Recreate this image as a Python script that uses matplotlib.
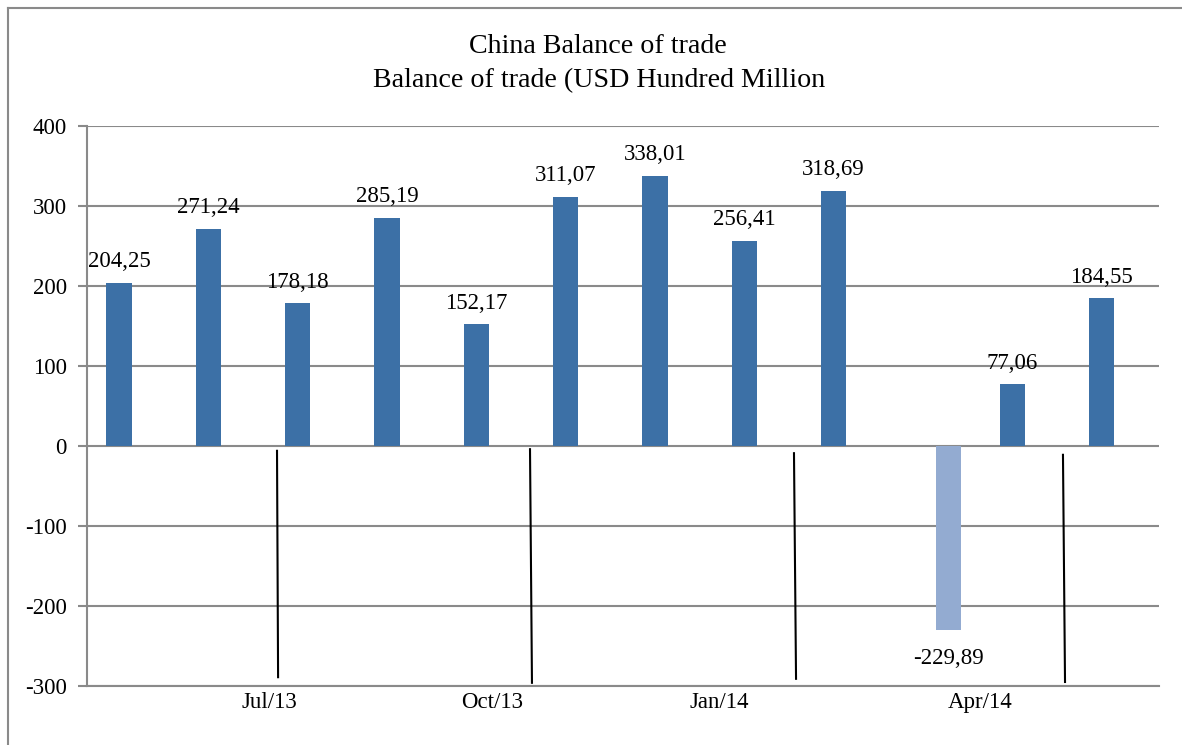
import matplotlib
matplotlib.use("Agg")
import matplotlib.pyplot as plt
import numpy as np

plt.rcParams['font.family'] = ['Liberation Serif', 'DejaVu Serif']

# ---- data ----
months = ["May/13", "Jun/13", "Jul/13", "Aug/13", "Sep/13", "Oct/13",
          "Nov/13", "Dec/13", "Jan/14", "Feb/14", "Mar/14", "Apr/14"]
surplus = [204.25, 271.24, 178.18, 285.19, 152.17, 311.07,
           338.01, 256.41, 318.69, np.nan, 77.06, 184.55]
deficit = [np.nan, np.nan, np.nan, np.nan, np.nan, np.nan,
           np.nan, np.nan, np.nan, -229.89, np.nan, np.nan]
date_labels = ["Jul/13", "Oct/13", "Jan/14", "Apr/14"]
yticks = [-300, -200, -100, 0, 100, 200, 300, 400]

def fmt(v):
    return f"{v:.2f}".replace(".", ",")

# ---- layout ----
W, H = 1182, 745
fig = plt.figure(figsize=(W / 100, H / 100), dpi=100)
ax = fig.add_axes([87 / W, 1 - 686 / H, (1159 - 87) / W, (686 - 126) / H])

x = np.arange(len(months))
bw = 0.285
dark = "#3C70A6"
light = "#93ABD1"
grid_c = "#8A8A8A"
FS = 16.5

b1 = ax.bar(x - bw / 2, surplus, width=bw, color=dark, zorder=3)
b2 = ax.bar(x + bw / 2, deficit, width=bw, color=light, zorder=3)

for rect, v in zip(b1, surplus):
    if not np.isnan(v):
        ax.annotate(fmt(v), (rect.get_x() + rect.get_width() / 2, v),
                    xytext=(0, 11.3), textcoords="offset points",
                    ha="center", va="baseline", fontsize=FS)
for rect, v in zip(b2, deficit):
    if not np.isnan(v):
        ax.annotate(fmt(v), (rect.get_x() + rect.get_width() / 2, v),
                    xytext=(0, -24.5), textcoords="offset points",
                    ha="center", va="baseline", fontsize=FS)

ax.set_xlim(-0.5, len(months) - 0.5)
ax.set_ylim(-300, 400)
ax.set_yticks(yticks)
ax.set_yticklabels([str(t) for t in yticks], fontsize=FS)
ax.yaxis.grid(True, color=grid_c, linewidth=1.5, zorder=0)
ax.tick_params(axis="y", length=6.5, width=1.5, color=grid_c, pad=8)

# date axis labels (as placed in the original chart)
label_pos = [1.54, 4.04, 6.58, 9.50]
ax.set_xticks(label_pos)
ax.set_xticklabels(date_labels, fontsize=FS)
ax.tick_params(axis="x", length=0, pad=4)

for s in ["top", "right"]:
    ax.spines[s].set_visible(False)
ax.spines["left"].set_color(grid_c)
ax.spines["left"].set_linewidth(1.5)
ax.spines["bottom"].set_color(grid_c)
ax.spines["bottom"].set_linewidth(1.5)

# hand-drawn vertical marker lines
marker_lines = [((1.627, -6), (1.639, -289)),
                ((4.459, -4), (4.481, -296)),
                ((7.414, -9), (7.437, -291)),
                ((10.425, -11), (10.448, -295))]
for (x0, y0), (x1, y1) in marker_lines:
    ax.plot([x0, x1], [y0, y1], color="black", linewidth=1.5, zorder=4)

# titles
fig.text(598 / W, 1 - 53 / H, "China Balance of trade", ha="center", va="baseline", fontsize=20.2)
fig.text(599 / W, 1 - 87 / H, "Balance of trade (USD Hundred Million", ha="center", va="baseline", fontsize=20.2)

# outer frame
fig.add_artist(plt.Line2D([8 / W, 8 / W], [0, 1 - 8 / H], color=grid_c, linewidth=1.5))
fig.add_artist(plt.Line2D([8 / W, 1], [1 - 8 / H, 1 - 8 / H], color=grid_c, linewidth=1.5))

fig.savefig("out.png", dpi=100)
